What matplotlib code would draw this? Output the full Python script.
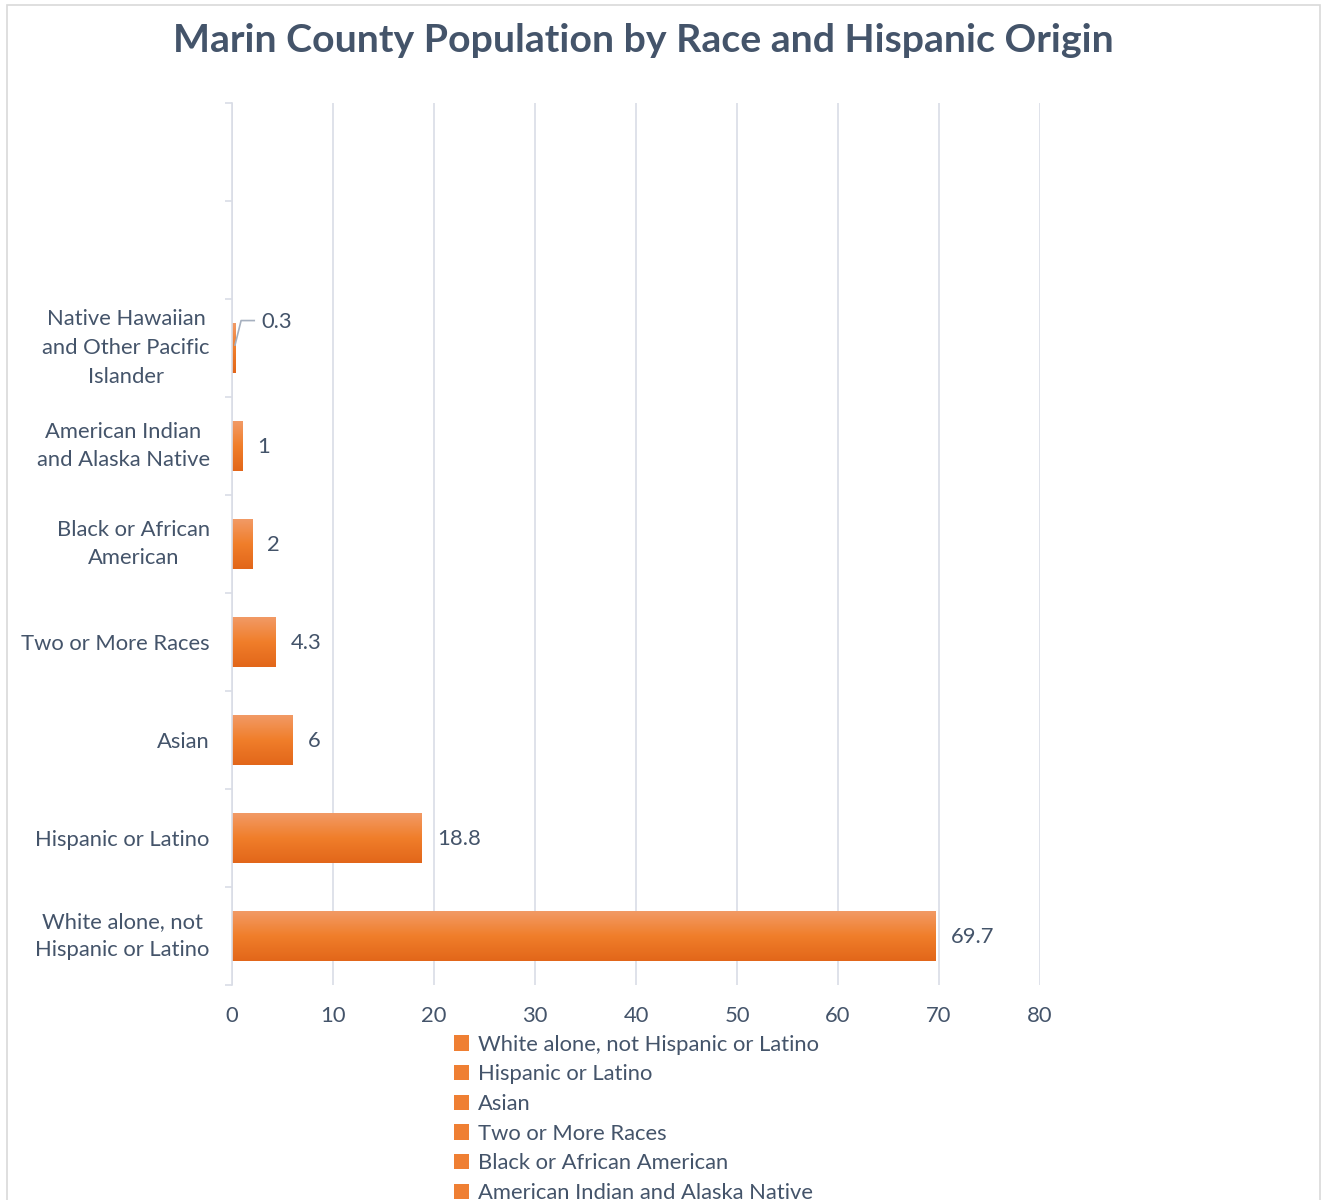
import numpy as np
import matplotlib.pyplot as plt
from matplotlib.patches import Patch, Rectangle
from matplotlib.colors import LinearSegmentedColormap

# Marin County share of population (%), bottom to top
cat_labels = ['White alone, not\nHispanic or Latino', 'Hispanic or Latino', 'Asian',
              'Two or More Races', 'Black or African\nAmerican',
              'American Indian\nand Alaska Native',
              'Native Hawaiian\nand Other Pacific\nIslander', '', '']
series_names = ['White alone, not Hispanic or Latino', 'Hispanic or Latino', 'Asian',
                'Two or More Races', 'Black or African American',
                'American Indian and Alaska Native',
                'Native Hawaiian and Other Pacific Islander']
values = [69.7, 18.8, 6, 4.3, 2, 1, 0.3]
xticks = [0, 10, 20, 30, 40, 50, 60, 70, 80]

txt = '#44546a'
grid_c = '#d9dde6'
fs = 15.8
plt.rcParams['font.family'] = ['Lato', 'DejaVu Sans']

fig = plt.figure(figsize=(13.23, 12), dpi=100)
ax = fig.add_axes([232/1323, 1 - 985/1200, 808/1323, 882/1200])

# border of the chart area
fig.patches.append(Rectangle((7/1323, -0.05), 1313/1323, 1.05 - 5/1200,
                             transform=fig.transFigure, fill=False,
                             edgecolor='#d9d9d9', lw=1.2))

grad = LinearSegmentedColormap.from_list('org', ['#e2661a', '#f07e2a', '#f29a66'])
gimg = np.linspace(0, 1, 256).reshape(-1, 1)
h = 0.51
for i, v in enumerate(values):
    b = ax.barh(i, v, height=h, color='none', edgecolor='none')[0]
    im = ax.imshow(gimg, cmap=grad, origin='lower', aspect='auto',
                   extent=[0, v, i - h/2, i + h/2], zorder=2)
    im.set_clip_path(b)
    if v < 0.5:
        # leader line for the thin bar
        ax.plot([v, v + 0.6, v + 1.9], [i + 0.03, i + 0.28, i + 0.28],
                color='#a6b0bf', lw=1.2, zorder=3, clip_on=False)
        ax.text(v + 2.6, i + 0.27, f'{v:g}', color=txt, fontsize=fs,
                va='center', ha='left')
    else:
        ax.annotate(f'{v:g}', (v, i), xytext=(11, -1), textcoords='offset points',
                    color=txt, fontsize=fs, va='center', ha='left')

ax.set_xlim(0, 80)
ax.set_ylim(-0.5, len(cat_labels) - 0.5)
ax.set_xticks(xticks)
ax.set_yticks(range(len(cat_labels)))
ax.set_yticklabels(cat_labels)
for lab in ax.get_yticklabels():
    lab.set_multialignment('center')
    lab.set_linespacing(1.55)
    if '\n' in lab.get_text():
        lab.set_verticalalignment('center')
ax.set_yticks(np.arange(-0.5, len(cat_labels)), minor=True)
ax.tick_params(axis='y', which='major', length=0, pad=16, labelsize=fs, labelcolor=txt)
ax.tick_params(axis='y', which='minor', length=5, color=grid_c, width=1.2)
ax.tick_params(axis='x', length=0, pad=15, labelsize=fs, labelcolor=txt)

ax.grid(axis='x', color=grid_c, lw=1.2, zorder=0)
ax.set_axisbelow(True)
for s in ['top', 'right', 'bottom']:
    ax.spines[s].set_visible(False)
ax.spines['left'].set_color(grid_c)
ax.spines['left'].set_linewidth(1.2)

fig.text(643/1323, 1 - 40/1200, 'Marin County Population by Race and Hispanic Origin',
         ha='center', va='center', fontsize=28.3, fontweight='bold', color=txt)

handles = [Patch(facecolor='#ef7f33', edgecolor='none') for _ in series_names]
fig.legend(handles, series_names, loc='upper left',
           bbox_to_anchor=(445/1323, 1 - 1026/1200), frameon=False,
           fontsize=fs, labelcolor=txt, handlelength=0.7, handleheight=0.7,
           handletextpad=0.4, labelspacing=0.44, borderaxespad=0)

fig.savefig('out.png', dpi=100)
